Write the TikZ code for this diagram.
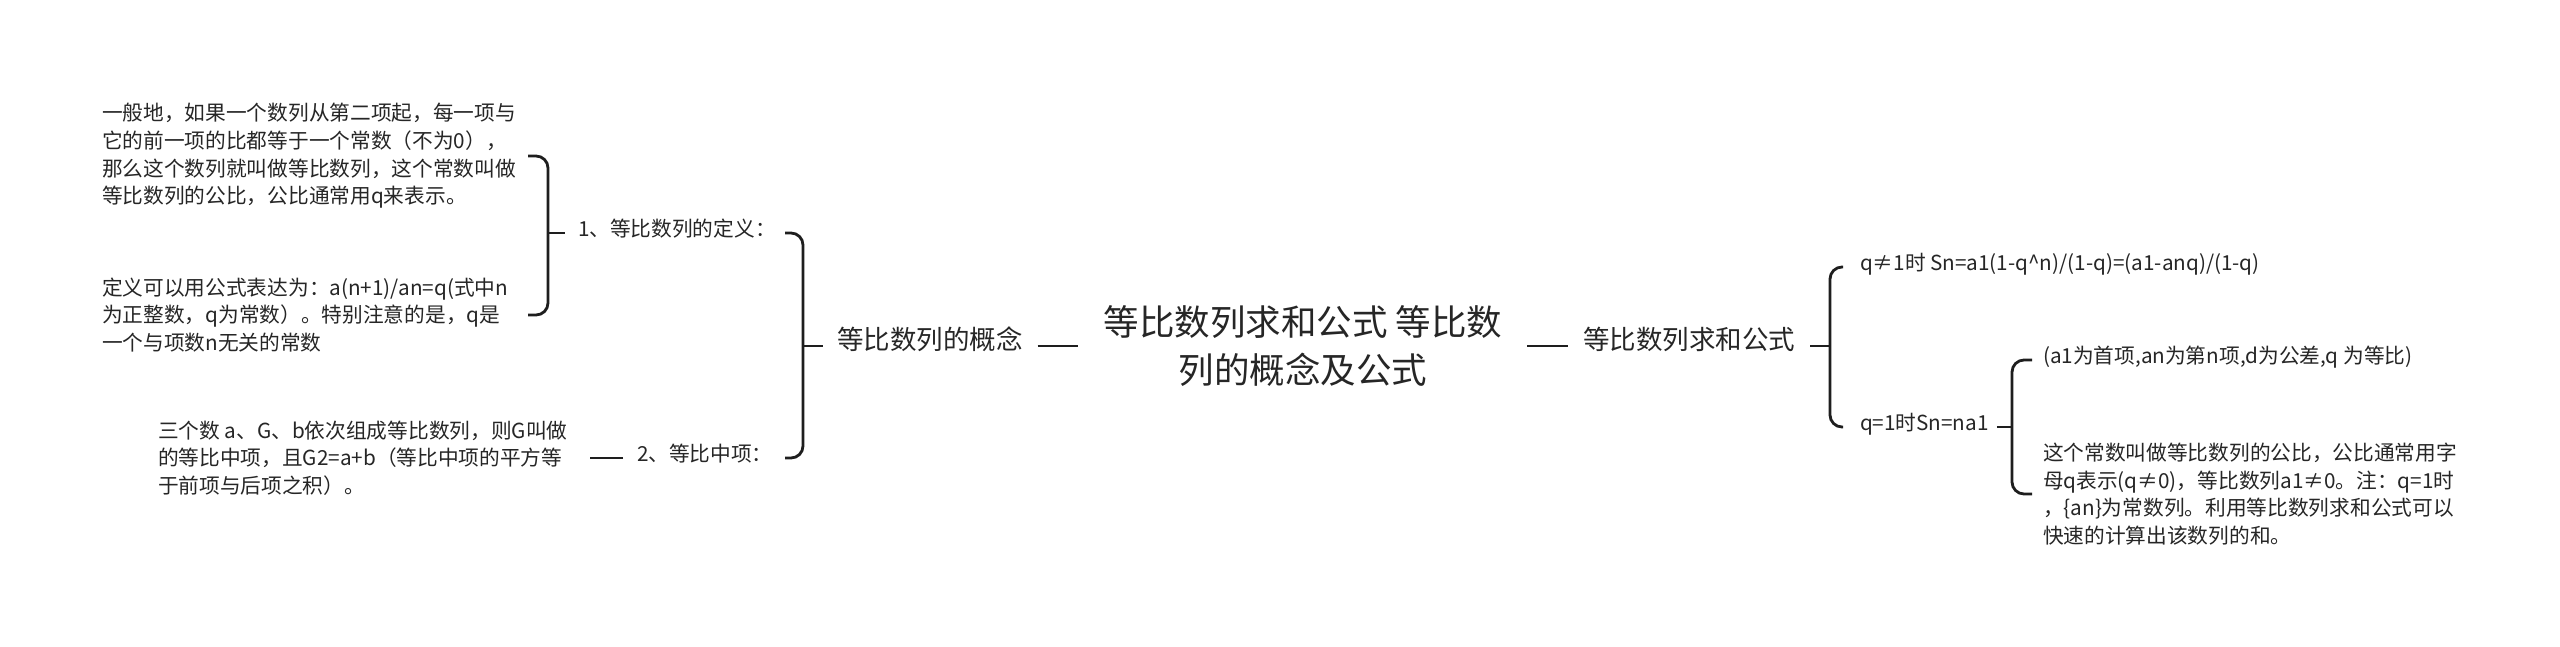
\documentclass[tikz,border=0pt]{standalone}
\usepackage{fontspec}
\setmainfont{Noto Sans CJK SC}
\usetikzlibrary{calc}
\definecolor{txt}{HTML}{262626}
\definecolor{lnc}{HTML}{1E1E1E}
\begin{document}
\begin{tikzpicture}[x=1pt,y=-1pt,
  every node/.style={inner sep=0pt, outer sep=0pt, text=txt},
  rootnode/.style={font=\fontsize{35.5}{48}\selectfont, align=center},
  lvone/.style={font=\fontsize{26.5}{34}\selectfont, anchor=west, text height=0.85em, text depth=0.15em},
  lvtwo/.style={font=\fontsize{20.7}{27.7}\selectfont, anchor=west, text height=0.85em, text depth=0.15em},
  para/.style={font=\fontsize{20.7}{27.7}\selectfont, anchor=west, align=left},
  ln/.style={draw=lnc, line width=2.8pt},
  brk/.style={ln, rounded corners=12pt},
]
\useasboundingbox[fill=white] (0,0) rectangle (2560,646);

% nodes
\node[rootnode] (root) at (1303,346) {等比数列求和公式 等比数\\列的概念及公式};
\node[lvone] (c1) at (837,346) {等比数列的概念};
\node[lvone] (c2) at (1583,346) {等比数列求和公式};
\node[lvtwo] (d1) at (578,233) {1、等比数列的定义：};
\node[lvtwo] (d2) at (637,458) {2、等比中项：};
\node[para] (e1) at (102,156) {一般地，如果一个数列从第二项起，每一项与\\它的前一项的比都等于一个常数（不为0），\\那么这个数列就叫做等比数列，这个常数叫做\\等比数列的公比，公比通常用q来表示。};
\node[para] (e2) at (102,315) {定义可以用公式表达为：a(n+1)/an=q(式中n\\为正整数，q为常数）。特别注意的是，q是\\一个与项数n无关的常数};
\node[para] (e3) at (158,458) {三个数 a、G、b依次组成等比数列，则G叫做\\的等比中项，且G2=a+b（等比中项的平方等\\于前项与后项之积）。};
\node[lvtwo] (f1) at (1860,267) {q≠1时 Sn=a1(1-q\textasciicircum{}n)/(1-q)=(a1-anq)/(1-q)};
\node[lvtwo] (f2) at (1860,427) {q=1时Sn=na1};
\node[lvtwo] (g1) at (2043,360) {(a1为首项,an为第n项,d为公差,q 为等比)};
\node[para] (g2) at (2043,494) {这个常数叫做等比数列的公比，公比通常用字\\母q表示(q≠0)，等比数列a1≠0。注：q=1时\\，\{an\}为常数列。利用等比数列求和公式可以\\快速的计算出该数列的和。};

% root connectors
\draw[ln] ([xshift=15pt]c1.east) -- ([xshift=-26pt]root.west);
\draw[ln] ([xshift=25pt]root.east) -- ([xshift=-15pt]c2.west);

% left bracket of c1
\coordinate (s1) at ([xshift=-34pt]c1.west);
\coordinate (a1) at (s1 |- d1.west);
\coordinate (a2) at (s1 |- d2.west);
\draw[ln] (s1) -- ([xshift=-14pt]c1.west);
\draw[brk] ([xshift=-18pt]a1) -| (s1) |- ([xshift=-18pt]a2);

% bracket of d1
\coordinate (s3) at ([xshift=-30pt]d1.west);
\coordinate (a3) at (s3 |- e1.west);
\coordinate (a4) at (s3 |- e2.west);
\draw[ln] (s3) -- ([xshift=-13pt]d1.west);
\draw[brk] ([xshift=-20pt]a3) -| (s3) |- ([xshift=-20pt]a4);

% d2 to e3
\draw[ln] ([xshift=-14pt]d2.west) -- ([xshift=22pt]e3.east);

% right bracket of c2
\coordinate (s2) at ([xshift=35pt]c2.east);
\coordinate (b1) at (s2 |- f1.west);
\coordinate (b2) at (s2 |- f2.west);
\draw[ln] ([xshift=15pt]c2.east) -- (s2);
\draw[brk] ([xshift=13pt]b1) -| (s2) |- ([xshift=13pt]b2);

% bracket of f2
\coordinate (g1l) at ([xshift=-31pt]g1.west);
\coordinate (s4) at (g1l |- f2.west);
\coordinate (b3) at (s4 |- g1.west);
\coordinate (b4) at (s4 |- g2.west);
\draw[ln] ([xshift=8pt]f2.east) -- (s4);
\draw[brk] ([xshift=20pt]b3) -| (s4) |- ([xshift=20pt]b4);
\end{tikzpicture}
\end{document}
